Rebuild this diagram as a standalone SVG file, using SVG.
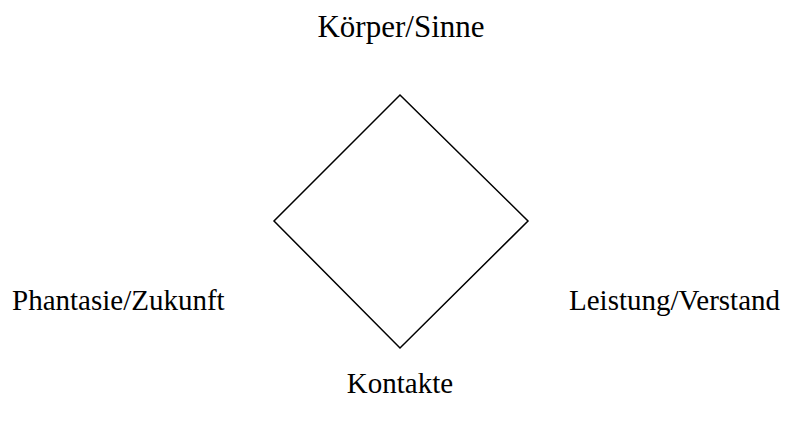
<svg xmlns="http://www.w3.org/2000/svg" width="785" height="423" viewBox="0 0 785 423">
  <style>
    .lbl { font-family: "Liberation Serif", "Times New Roman", serif; font-size: 29px; fill: #000; }
    .shape { fill: none; stroke: #000; stroke-width: 1.5; }
  </style>
  <rect width="785" height="423" fill="#fff"/>
  <g id="diamond">
    <polygon class="shape" points="400,95 528,221 400,348 274,221"/>
  </g>
  <g id="connectors"></g>
  <g id="top-label">
    <text class="lbl" x="401" y="37" text-anchor="middle" style="font-size:31px">Körper/Sinne</text>
  </g>
  <g id="left-label">
    <text class="lbl" x="12" y="310">Phantasie/Zukunft</text>
  </g>
  <g id="right-label">
    <text class="lbl" x="569" y="310">Leistung/Verstand</text>
  </g>
  <g id="bottom-label">
    <text class="lbl" x="400" y="393" text-anchor="middle">Kontakte</text>
  </g>
</svg>
